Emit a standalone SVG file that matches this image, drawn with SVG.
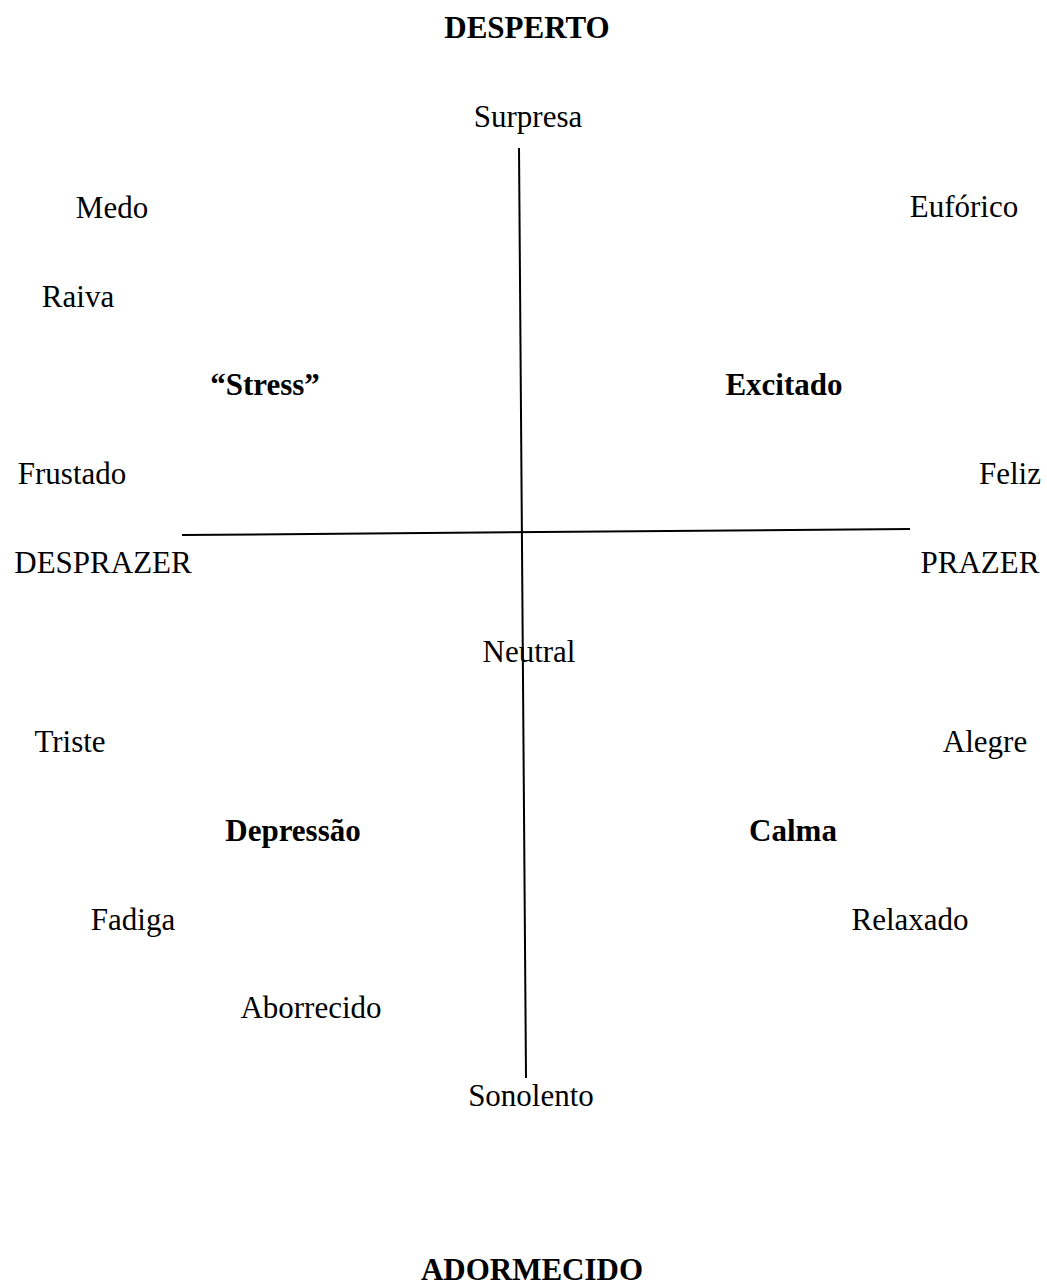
<svg xmlns="http://www.w3.org/2000/svg" width="1047" height="1288" viewBox="0 0 1047 1288">
<style>
text{font-family:"Liberation Serif","Times New Roman",serif;font-size:31px;fill:#000;text-anchor:middle}
.b{font-weight:bold}
.ax{stroke:#000;stroke-width:2;fill:none}
</style>
<rect width="1047" height="1288" fill="#fff"/>
<g id="connectors">
<line class="ax" x1="519" y1="148" x2="526" y2="1078"/>
<line class="ax" x1="182" y1="535" x2="910" y2="529"/>
</g>
<g id="desperto"><text class="b" x="527" y="38">DESPERTO</text></g>
<g id="surpresa"><text x="528" y="127">Surpresa</text></g>
<g id="medo"><text x="112" y="218">Medo</text></g>
<g id="euforico"><text x="964" y="217">Eufórico</text></g>
<g id="raiva"><text x="78" y="307">Raiva</text></g>
<g id="stress"><text class="b" x="265" y="395">“Stress”</text></g>
<g id="excitado"><text class="b" x="784" y="395">Excitado</text></g>
<g id="frustado"><text x="72" y="484">Frustado</text></g>
<g id="feliz"><text x="1010" y="484">Feliz</text></g>
<g id="desprazer"><text x="103" y="573">DESPRAZER</text></g>
<g id="prazer"><text x="980" y="573">PRAZER</text></g>
<g id="neutral"><text x="529" y="662">Neutral</text></g>
<g id="triste"><text x="70" y="752">Triste</text></g>
<g id="alegre"><text x="985" y="752">Alegre</text></g>
<g id="depressao"><text class="b" x="293" y="841">Depressão</text></g>
<g id="calma"><text class="b" x="793" y="841">Calma</text></g>
<g id="fadiga"><text x="133" y="930">Fadiga</text></g>
<g id="relaxado"><text x="910" y="930">Relaxado</text></g>
<g id="aborrecido"><text x="311" y="1018">Aborrecido</text></g>
<g id="sonolento"><text x="531" y="1106">Sonolento</text></g>
<g id="adormecido"><text class="b" x="532" y="1280">ADORMECIDO</text></g>
</svg>
